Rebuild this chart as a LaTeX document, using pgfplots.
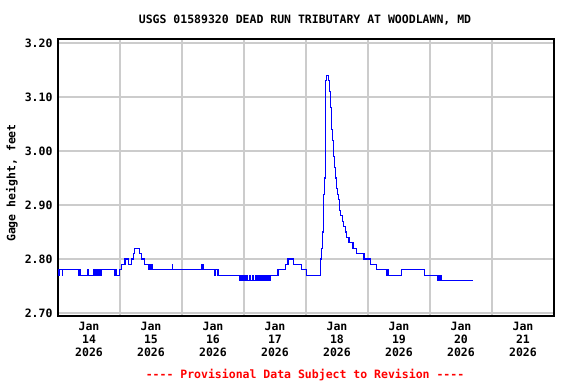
\documentclass[border=0pt]{standalone}
\usepackage{fontspec}
\setmainfont{DejaVu Sans Mono}
\usepackage{pgfplots}
\pgfplotsset{compat=1.18}
\definecolor{gridgray}{RGB}{204,204,204}
\definecolor{usgsblue}{RGB}{0,0,255}
\definecolor{usgsred}{RGB}{255,0,0}
\newcommand{\cf}{\fontsize{11.5bp}{12.6bp}\selectfont\bfseries}
\begin{document}
\begin{tikzpicture}
\useasboundingbox (0,0) rectangle (576bp,384bp);
\begin{axis}[
  at={(58bp,68bp)}, anchor=south west,
  width=496bp, height=277bp, scale only axis,
  xmin=0, xmax=8, ymin=2.6944, ymax=3.2074,
  axis line style={black, line width=1.4bp},
  xtick={0.5,1.5,...,7.5},
  xticklabels={{Jan\\14\\2026},{Jan\\15\\2026},{Jan\\16\\2026},{Jan\\17\\2026},{Jan\\18\\2026},{Jan\\19\\2026},{Jan\\20\\2026},{Jan\\21\\2026}},
  minor xtick={1,2,...,7},
  xminorgrids=true, xmajorgrids=false,
  ytick={2.7,2.8,2.9,3.0,3.1,3.2},
  ymajorgrids=true,
  major tick length=0pt, minor tick length=0pt,
  grid style={gridgray, line width=1.3bp},
  minor grid style={gridgray, line width=1.3bp},
  /pgf/number format/assume math mode=true,
  yticklabel style={/pgf/number format/fixed, /pgf/number format/fixed zerofill, /pgf/number format/precision=2, xshift=-2bp},
  ticklabel style={font=\cf},
  xticklabel style={align=center, yshift=-3bp},
]
\addplot[const plot, usgsblue, line width=1.1bp] table {
x y
0.000 2.78
0.012 2.77
0.020 2.78
0.066 2.77
0.074 2.78
0.325 2.77
0.333 2.78
0.340 2.77
0.348 2.78
0.355 2.77
0.480 2.78
0.488 2.77
0.581 2.78
0.590 2.77
0.600 2.78
0.610 2.77
0.620 2.78
0.630 2.77
0.640 2.78
0.650 2.77
0.660 2.78
0.670 2.77
0.680 2.78
0.690 2.77
0.699 2.78
0.909 2.77
0.920 2.78
0.945 2.77
0.995 2.78
1.030 2.79
1.080 2.80
1.140 2.79
1.180 2.80
1.220 2.81
1.240 2.82
1.315 2.81
1.350 2.80
1.390 2.79
1.466 2.78
1.475 2.79
1.485 2.78
1.495 2.79
1.505 2.78
1.513 2.79
1.522 2.78
1.845 2.79
1.853 2.78
2.323 2.79
2.350 2.78
2.527 2.77
2.540 2.78
2.581 2.77
2.930 2.76
2.940 2.77
2.950 2.76
2.960 2.77
2.970 2.76
2.980 2.77
2.990 2.76
3.000 2.77
3.010 2.76
3.020 2.77
3.030 2.76
3.040 2.77
3.050 2.76
3.091 2.77
3.100 2.76
3.140 2.77
3.150 2.76
3.188 2.77
3.196 2.76
3.226 2.77
3.236 2.76
3.246 2.77
3.256 2.76
3.266 2.77
3.276 2.76
3.286 2.77
3.296 2.76
3.306 2.77
3.316 2.76
3.326 2.77
3.336 2.76
3.346 2.77
3.356 2.76
3.366 2.77
3.376 2.76
3.386 2.77
3.396 2.76
3.406 2.77
3.416 2.76
3.425 2.77
3.549 2.78
3.667 2.79
3.710 2.80
3.800 2.79
3.925 2.78
4.005 2.77
4.232 2.80
4.248 2.82
4.270 2.85
4.286 2.92
4.302 2.95
4.313 3.13
4.329 3.14
4.361 3.13
4.377 3.11
4.393 3.08
4.409 3.04
4.425 3.02
4.441 2.99
4.457 2.97
4.474 2.95
4.490 2.93
4.506 2.92
4.522 2.91
4.538 2.89
4.554 2.88
4.586 2.87
4.602 2.86
4.635 2.85
4.651 2.84
4.694 2.83
4.758 2.82
4.812 2.81
4.936 2.80
5.038 2.79
5.135 2.78
5.307 2.77
5.315 2.78
5.322 2.77
5.540 2.78
5.915 2.77
6.129 2.76
6.139 2.77
6.149 2.76
6.159 2.77
6.169 2.76
6.176 2.77
6.183 2.76
6.694 2.76
};
\end{axis}
\node[font=\cf] at (305bp,364bp) {USGS 01589320 DEAD RUN TRIBUTARY AT WOODLAWN, MD};
\node[font=\cf, rotate=90] at (12bp,201bp) {Gage height, feet};
\node[font=\cf, text=usgsred] at (305bp,9bp) {-{}-{}-{}- Provisional Data Subject to Revision -{}-{}-{}-};
\end{tikzpicture}
\end{document}
